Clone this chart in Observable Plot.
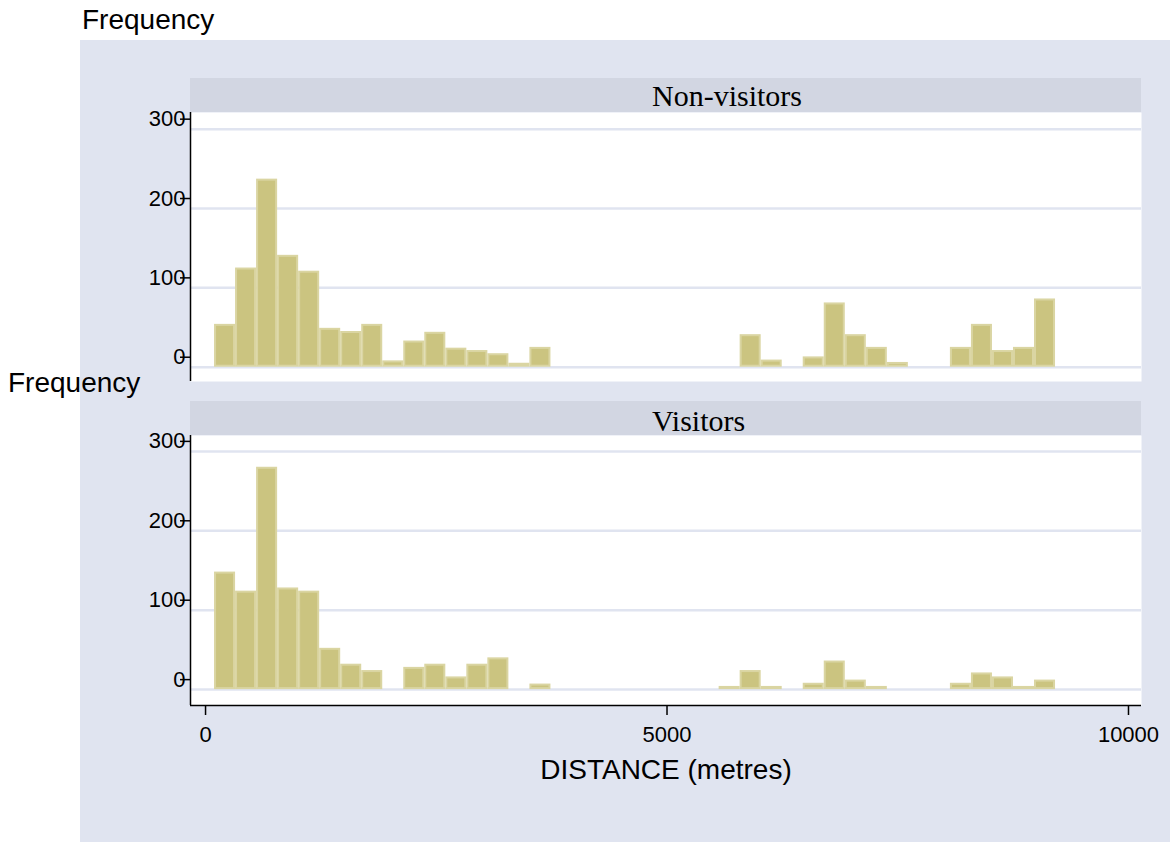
<!DOCTYPE html>
<html>
<head>
<meta charset="utf-8">
<script src="https://cdn.jsdelivr.net/npm/d3@7"></script>
<script src="https://cdn.jsdelivr.net/npm/@observablehq/plot@0.6"></script>
<style>
  html, body { margin: 0; padding: 0; background: #ffffff; }
  #page { position: relative; width: 1170px; height: 842px; overflow: hidden; font-family: "Liberation Sans", Arial, sans-serif; }
  #bg { position: absolute; left: 80px; top: 40px; width: 1090px; height: 802px; background: #e0e4f0; }
  .ttl { position: absolute; font-size: 28px; line-height: 28px; color: #000; white-space: nowrap; }
  .strip { position: absolute; left: 190px; width: 951px; height: 34px; background: #d2d6e2;
           font-family: "Liberation Serif", "Times New Roman", serif; font-size: 30px; line-height: 34px;
           box-sizing: border-box; padding-left: 462px; color: #000; white-space: nowrap; }
  .panel { position: absolute; left: 0; }
  .panel svg { overflow: visible; }
</style>
</head>
<body>
<div id="page">
  <div id="bg"></div>
  <div class="ttl" style="left:82px; top:6px;">Frequency</div>
  <div class="ttl" style="left:8px; top:369px;">Frequency</div>
  <div class="strip" style="top:78px; padding-top:1px;">Non-visitors</div>
  <div class="strip" style="top:401px; padding-top:3px;">Visitors</div>
  <div class="panel" id="top" style="top:112px;"></div>
  <div class="panel" id="bottom" style="top:435px;"></div>
</div>
<script>
// ---- data ----
const panelNames = ["Non-visitors", "Visitors"];
const binStart = 97.5;      // metres, left edge of first bin
const binWidth = 227.8;     // metres
const nonVisitors = [54, 125, 237, 141, 121, 49, 45, 54, 8, 33,
                     44, 24, 21, 17, 5, 25, 0, 0, 0, 0,
                     0, 0, 0, 0, 0, 41, 9, 0, 13, 81,
                     41, 25, 6, 0, 0, 25, 54, 21, 25, 86];
const visitors    = [148, 124, 280, 128, 124, 52, 32, 24, 0, 28,
                     32, 16, 32, 40, 0, 7, 0, 0, 0, 0,
                     0, 0, 0, 0, 4, 24, 4, 0, 8, 36,
                     12, 4, 0, 0, 0, 8, 21, 16, 4, 12];
const yTicks = [0, 100, 200, 300];
const xTicks = [0, 5000, 10000];
const xLabel = "DISTANCE (metres)";

// ---- helpers ----
const xDomain = [-163, 10141];
const barFill = "#cbc480";
const barStroke = "#dad5a2";
const gridColor = "#e0e4f0";

function toBins(counts) {
  return counts
    .map((n, i) => ({x1: binStart + i * binWidth, x2: binStart + (i + 1) * binWidth, n}))
    .filter(d => d.n > 0);
}

function panel(counts, yDomain, plotHeight, withX) {
  const marks = [
    Plot.frame({fill: "white", stroke: "none"}),
    Plot.gridY(yTicks, {stroke: gridColor, strokeWidth: 2.5, strokeOpacity: 1}),
    Plot.rectY(toBins(counts), {x1: "x1", x2: "x2", y: "n", fill: barFill, stroke: barStroke, strokeWidth: 2, inset: 1}),
    Plot.ruleX([xDomain[0]], {stroke: "black", strokeWidth: 1.5}),
    Plot.axisY(yTicks, {anchor: "left", tickSize: 10, tickPadding: -5, dy: -10, fontSize: 22, label: null,
                        tickFormat: d => String(d), stroke: "black", strokeWidth: 1.5})
  ];
  if (withX) {
    marks.push(
      Plot.ruleY([yDomain[0]], {stroke: "black", strokeWidth: 1.5}),
      Plot.axisX(xTicks, {anchor: "bottom", tickSize: 10, tickPadding: 11, fontSize: 22, label: null,
                          tickFormat: d => String(d), stroke: "black", strokeWidth: 1.5}),
      Plot.text([xLabel], {frameAnchor: "bottom", dy: 73, fontSize: 28, fill: "black"})
    );
  }
  return Plot.plot({
    width: 1170,
    height: plotHeight + (withX ? 100 : 0),
    marginLeft: 190,
    marginRight: 29,
    marginTop: 0,
    marginBottom: withX ? 100 : 0,
    style: {background: "transparent", overflow: "visible", fontFamily: "'Liberation Sans', Arial, sans-serif", color: "black"},
    x: {domain: xDomain, axis: null},
    y: {domain: yDomain, axis: null},
    marks
  });
}

document.getElementById("top").append(panel(nonVisitors, [-18, 321], 269, false));
document.getElementById("bottom").append(panel(visitors, [-20, 320], 270, true));
</script>
</body>
</html>
